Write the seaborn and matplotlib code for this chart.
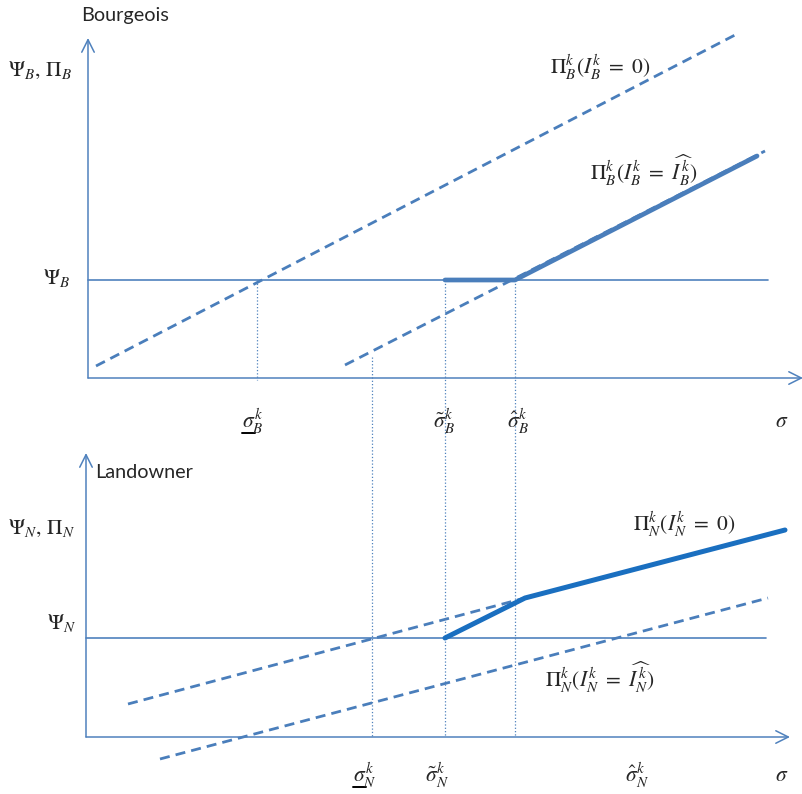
import matplotlib
matplotlib.use("Agg")
import matplotlib.pyplot as plt
import seaborn as sns

sns.set_style("white")
plt.rcParams['font.family'] = ['Lato', 'DejaVu Sans']
plt.rcParams['mathtext.fontset'] = 'stix'

# picture units: x to the right, y downwards (0 at top)
axis_color = "#4F81BD"
dash_color = "#4A7EBB"
thick_b_color = "#4A7EBB"
thick_n_color = "#1A6FC0"

# --- Bourgeois panel ---
b_origin = (88, 378)
b_yaxis_top = 38
b_xaxis_end = 803
psi_b = 280
psi_b_x = [88, 768]
pi_b_zero_x = [96, 735]
pi_b_zero_y = [366, 35]
pi_b_hat_x = [345, 765]
pi_b_hat_y = [365, 151]
pi_b_kink_x = [445, 515, 757]
pi_b_kink_y = [280, 280, 156]

# --- Landowner panel ---
n_origin = (86, 737)
n_yaxis_top = 453
n_xaxis_end = 790
psi_n = 638
psi_n_x = [86, 766]
pi_n_zero_dash_x = [128, 525]
pi_n_zero_dash_y = [704, 598]
pi_n_hat_x = [160, 768]
pi_n_hat_y = [759, 598]
pi_n_kink_x = [445, 525, 785]
pi_n_kink_y = [638, 598, 530]

# dotted guides: x, top, bottom
guide_x = [257, 372, 445, 515]
guide_top = [280, 357, 280, 280]
guide_bottom = [380, 737, 737, 737]

# tick labels (left edge of each label)
b_ticks_x = [242, 433, 507, 775]
b_ticks = [r'$\sigma_B^k$', r'$\tilde{\sigma}_B^k$', r'$\hat{\sigma}_B^k$', r'$\sigma$']
n_ticks_x = [353, 425, 625, 775]
n_ticks = [r'$\sigma_N^k$', r'$\tilde{\sigma}_N^k$', r'$\hat{\sigma}_N^k$', r'$\sigma$']

fig = plt.figure(figsize=(8.03, 7.94), dpi=100)
ax = fig.add_axes([0, 0, 1, 1])
ax.set_xlim(0, 803)
ax.set_ylim(794, 0)
ax.axis("off")


def seg(xs, ys, color, lw, ls="-"):
    sns.lineplot(x=xs, y=ys, ax=ax, color=color, linewidth=lw, linestyle=ls,
                 estimator=None, sort=False, legend=False)


def arrow(x0, y0, x1, y1):
    ax.annotate("", xy=(x1, y1), xytext=(x0, y0),
                arrowprops=dict(arrowstyle="->,head_length=0.9,head_width=0.45",
                                color=axis_color, lw=1.1, shrinkA=0, shrinkB=0))


dashed = (0, (3.6, 2.2))

# axes
for (ox, oy), ytop, xend in [(b_origin, b_yaxis_top, b_xaxis_end),
                             (n_origin, n_yaxis_top, n_xaxis_end)]:
    arrow(ox, oy, ox, ytop)
    arrow(ox, oy, xend, oy)

# reservation lines
seg(psi_b_x, [psi_b, psi_b], axis_color, 1.2)
seg(psi_n_x, [psi_n, psi_n], axis_color, 1.2)

# dotted guides
for gx, gt, gb in zip(guide_x, guide_top, guide_bottom):
    seg([gx, gx], [gt, gb], axis_color, 0.9, ":")

# Bourgeois curves
seg(pi_b_zero_x, pi_b_zero_y, dash_color, 2.0, dashed)
seg(pi_b_hat_x, pi_b_hat_y, dash_color, 2.0, dashed)
seg(pi_b_kink_x, pi_b_kink_y, thick_b_color, 3.4)

# Landowner curves
seg(pi_n_zero_dash_x, pi_n_zero_dash_y, dash_color, 2.0, dashed)
seg(pi_n_hat_x, pi_n_hat_y, dash_color, 2.0, dashed)
seg(pi_n_kink_x, pi_n_kink_y, thick_n_color, 3.6)

# texts
ms = 15.5
ax.text(81, 15, "Bourgeois", fontsize=14.3, va="center", ha="left")
ax.text(95, 472, "Landowner", fontsize=14.3, va="center", ha="left")
ax.text(8, 70, r'$\Psi_B,\,\Pi_B$', fontsize=ms, va="center", ha="left")
ax.text(8, 528, r'$\Psi_N,\,\Pi_N$', fontsize=ms, va="center", ha="left")
ax.text(70, 278, r'$\Psi_B$', fontsize=ms, va="center", ha="right")
ax.text(76, 623, r'$\Psi_N$', fontsize=ms, va="center", ha="right")
ax.text(550, 67, r'$\Pi_B^k(I_B^k\ =\ 0)$', fontsize=ms, va="center", ha="left")
ax.text(590, 170, r'$\Pi_B^k(I_B^k\ =\ \widehat{I_B^k})$', fontsize=ms, va="center", ha="left")
ax.text(633, 524, r'$\Pi_N^k(I_N^k\ =\ 0)$', fontsize=ms, va="center", ha="left")
ax.text(545, 677, r'$\Pi_N^k(I_N^k\ =\ \widehat{I_N^k})$', fontsize=ms, va="center", ha="left")

for tx, tl in zip(b_ticks_x, b_ticks):
    ax.text(tx, 421, tl, fontsize=ms, va="center", ha="left")
for tx, tl in zip(n_ticks_x, n_ticks):
    ax.text(tx, 775, tl, fontsize=ms, va="center", ha="left")

# underline under the lower-bound sigmas
ax.plot([b_ticks_x[0], b_ticks_x[0] + 13], [433, 433], color="black", lw=1.4)
ax.plot([n_ticks_x[0], n_ticks_x[0] + 13], [787, 787], color="black", lw=1.4)

fig.savefig("out.png", dpi=100)
